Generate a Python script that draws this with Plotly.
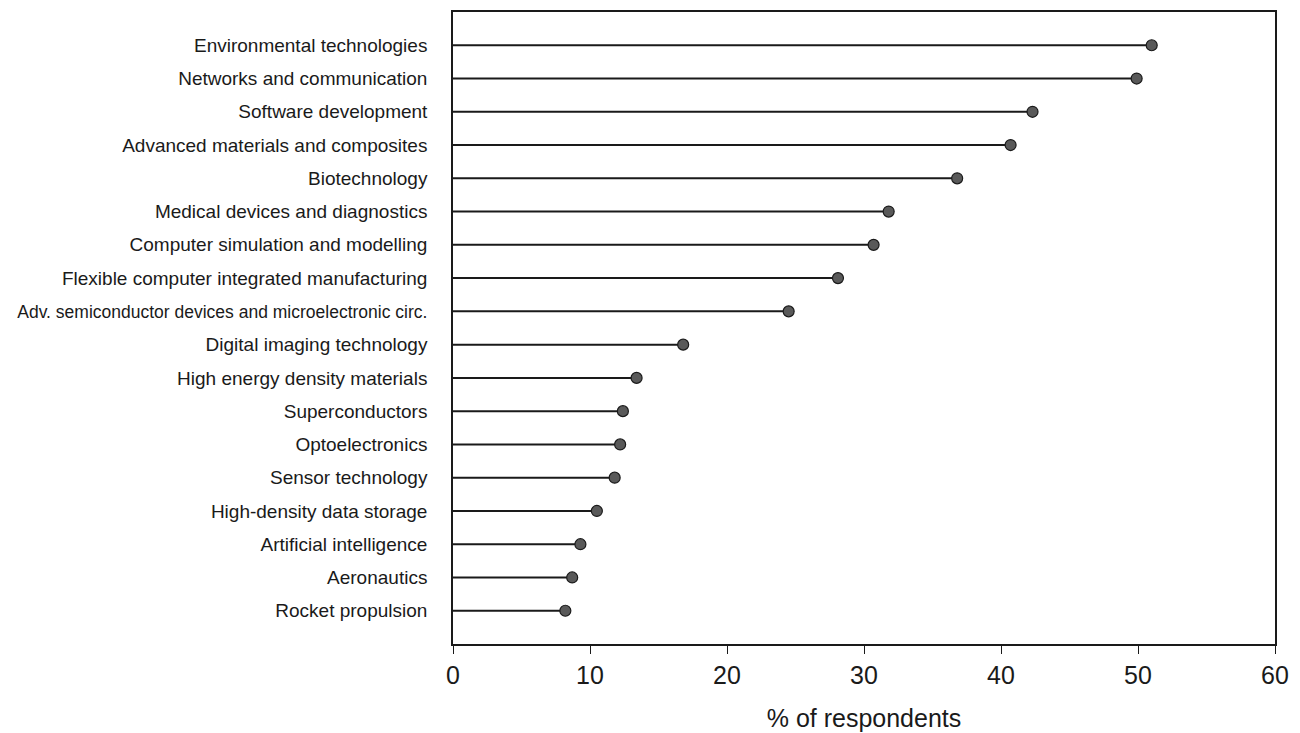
import plotly.graph_objects as go

categories = [
    "Environmental technologies",
    "Networks and communication",
    "Software development",
    "Advanced materials and composites",
    "Biotechnology",
    "Medical devices and diagnostics",
    "Computer simulation and modelling",
    "Flexible computer integrated manufacturing",
    "Adv. semiconductor devices and microelectronic circ.",
    "Digital imaging technology",
    "High energy density materials",
    "Superconductors",
    "Optoelectronics",
    "Sensor technology",
    "High-density data storage",
    "Artificial intelligence",
    "Aeronautics",
    "Rocket propulsion",
]
values = [51.0, 49.9, 42.3, 40.7, 36.8, 31.8, 30.7, 28.1, 24.5, 16.8,
          13.4, 12.4, 12.2, 11.8, 10.5, 9.3, 8.7, 8.2]

x_ticks = [0, 10, 20, 30, 40, 50, 60]
x_title = "% of respondents"

# long labels are set a little smaller so they fit the left margin
tick_text = [c if len(c) < 45 else '<span style="font-size:17.5px">' + c + "</span>"
             for c in categories]

# stems: each from 0 to the value
line_x, line_y = [], []
for c, v in zip(categories, values):
    line_x += [0, v, None]
    line_y += [c, c, None]

fig = go.Figure()
fig.add_trace(go.Scatter(
    x=line_x, y=line_y, mode="lines",
    line=dict(color="#1a1a1a", width=2), hoverinfo="skip", showlegend=False,
))
fig.add_trace(go.Scatter(
    x=values, y=categories, mode="markers",
    marker=dict(size=11, color="#595959", line=dict(color="#1a1a1a", width=1.2)),
    showlegend=False,
))

fig.update_layout(
    width=1300, height=733,
    margin=dict(l=445, r=33, t=4, b=97),
    paper_bgcolor="white", plot_bgcolor="white",
    font=dict(family="Liberation Sans, Arial, sans-serif", color="#1a1a1a"),
    xaxis=dict(
        range=[0, 60], tickvals=x_ticks, ticks="outside", ticklen=8, tickwidth=1.2,
        tickcolor="#1a1a1a", showline=True, linecolor="#1a1a1a", linewidth=1.6,
        mirror=True, showgrid=False, zeroline=False, automargin=False,
        tickfont=dict(size=25),
        title=dict(text=x_title, standoff=22, font=dict(size=25)),
    ),
    yaxis=dict(
        categoryorder="array", categoryarray=categories,
        tickvals=categories, ticktext=tick_text,
        range=[17 + 1, -1], showline=True, linecolor="#1a1a1a", linewidth=1.6,
        mirror=True, showgrid=False, zeroline=False, ticks="", automargin=False,
        ticklabelstandoff=20,
        tickfont=dict(size=19),
    ),
)

fig.write_html("out.html")
